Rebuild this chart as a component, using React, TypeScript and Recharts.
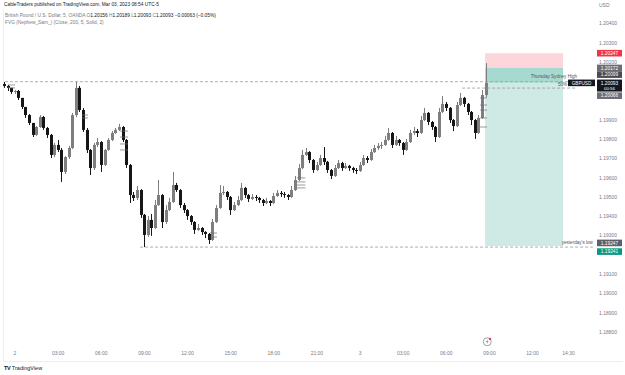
import React from 'react';
import { ComposedChart, Bar, XAxis, YAxis, ReferenceArea, ReferenceLine, ReferenceDot } from 'recharts';

// 15-minute candles, GBPUSD (OANDA), starting Mar 1 23:15 (hours relative to Mar 2 00:00)
const startHour = -0.75;
const stepHours = 0.25;

const opens = [
  1.20087, 1.20077, 1.20067, 1.20046, 1.20051, 1.20015, 1.19968, 1.19926, 1.19885, 1.19823,
  1.19864, 1.19916, 1.19859, 1.19823, 1.19719, 1.19771, 1.19745, 1.19631, 1.19708, 1.19755,
  1.19926, 1.20067, 1.19952, 1.19849, 1.19745, 1.19651, 1.19771, 1.19786, 1.19667, 1.19745,
  1.19797, 1.19833, 1.19849, 1.19864, 1.19797, 1.19667, 1.19511, 1.19496, 1.19537, 1.19408,
  1.19304, 1.19382, 1.19340, 1.19459, 1.19511, 1.19371, 1.19433, 1.19475, 1.19563, 1.19537,
  1.19459, 1.19433, 1.19402, 1.19371, 1.19330, 1.19340, 1.19319, 1.19309, 1.19278, 1.19371,
  1.19444, 1.19522, 1.19527, 1.19501, 1.19433, 1.19459, 1.19485, 1.19548, 1.19511, 1.19491,
  1.19501, 1.19496, 1.19485, 1.19470, 1.19480, 1.19470, 1.19506, 1.19522, 1.19516, 1.19511,
  1.19501, 1.19537, 1.19589, 1.19651, 1.19719, 1.19734, 1.19693, 1.19641, 1.19667, 1.19703,
  1.19683, 1.19641, 1.19610, 1.19651, 1.19677, 1.19651, 1.19662, 1.19651, 1.19641, 1.19636,
  1.19667, 1.19703, 1.19693, 1.19734, 1.19755, 1.19766, 1.19771, 1.19797, 1.19833, 1.19771,
  1.19797, 1.19781, 1.19745, 1.19786, 1.19833, 1.19843, 1.19833, 1.19900, 1.19937, 1.19890,
  1.19864, 1.19812, 1.19942, 1.19984, 1.19963, 1.19900, 1.19869, 1.19978, 1.20015, 1.19984,
  1.19942, 1.19900, 1.19833, 1.19911, 1.20030,
];

const closes = [
  1.20077, 1.20067, 1.20046, 1.20051, 1.20015, 1.19968, 1.19926, 1.19885, 1.19823, 1.19864,
  1.19916, 1.19859, 1.19823, 1.19719, 1.19771, 1.19745, 1.19631, 1.19708, 1.19755, 1.19926,
  1.20067, 1.19952, 1.19849, 1.19745, 1.19651, 1.19771, 1.19786, 1.19667, 1.19745, 1.19797,
  1.19833, 1.19849, 1.19864, 1.19797, 1.19667, 1.19511, 1.19496, 1.19537, 1.19408, 1.19304,
  1.19382, 1.19340, 1.19459, 1.19511, 1.19371, 1.19433, 1.19475, 1.19563, 1.19537, 1.19459,
  1.19433, 1.19402, 1.19371, 1.19330, 1.19340, 1.19319, 1.19309, 1.19278, 1.19371, 1.19444,
  1.19522, 1.19527, 1.19501, 1.19433, 1.19459, 1.19485, 1.19548, 1.19511, 1.19491, 1.19501,
  1.19496, 1.19485, 1.19470, 1.19480, 1.19470, 1.19506, 1.19522, 1.19516, 1.19511, 1.19501,
  1.19537, 1.19589, 1.19651, 1.19719, 1.19734, 1.19693, 1.19641, 1.19667, 1.19703, 1.19683,
  1.19641, 1.19610, 1.19651, 1.19677, 1.19651, 1.19662, 1.19651, 1.19641, 1.19636, 1.19667,
  1.19703, 1.19693, 1.19734, 1.19755, 1.19766, 1.19771, 1.19797, 1.19833, 1.19771, 1.19797,
  1.19781, 1.19745, 1.19786, 1.19833, 1.19843, 1.19833, 1.19900, 1.19937, 1.19890, 1.19864,
  1.19812, 1.19942, 1.19984, 1.19963, 1.19900, 1.19869, 1.19978, 1.20015, 1.19984, 1.19942,
  1.19900, 1.19833, 1.19911, 1.20030, 1.20093,
];

const highs = [
  1.20098, 1.20082, 1.20067, 1.20056, 1.20056, 1.20015, 1.19968, 1.19931, 1.19885, 1.19869,
  1.19926, 1.19921, 1.19864, 1.19828, 1.19781, 1.19797, 1.19755, 1.19713, 1.19766, 1.19937,
  1.20098, 1.20077, 1.19962, 1.19859, 1.19750, 1.19781, 1.19807, 1.19791, 1.19750, 1.19807,
  1.19843, 1.19859, 1.19880, 1.19869, 1.19802, 1.19672, 1.19527, 1.19558, 1.19542, 1.19413,
  1.19402, 1.19413, 1.19485, 1.19589, 1.19516, 1.19459, 1.19496, 1.19631, 1.19574, 1.19542,
  1.19470, 1.19438, 1.19407, 1.19376, 1.19361, 1.19345, 1.19324, 1.19314, 1.19387, 1.19459,
  1.19563, 1.19558, 1.19532, 1.19506, 1.19475, 1.19506, 1.19574, 1.19553, 1.19516, 1.19516,
  1.19511, 1.19501, 1.19491, 1.19496, 1.19485, 1.19522, 1.19537, 1.19532, 1.19527, 1.19516,
  1.19558, 1.19610, 1.19672, 1.19745, 1.19755, 1.19739, 1.19698, 1.19683, 1.19719, 1.19760,
  1.19688, 1.19646, 1.19667, 1.19693, 1.19683, 1.19677, 1.19667, 1.19657, 1.19651, 1.19683,
  1.19719, 1.19713, 1.19750, 1.19771, 1.19781, 1.19786, 1.19818, 1.19859, 1.19838, 1.19818,
  1.19802, 1.19786, 1.19802, 1.19849, 1.19864, 1.19854, 1.19921, 1.19963, 1.19942, 1.19895,
  1.19869, 1.19963, 1.20025, 1.19994, 1.19968, 1.19905, 1.19994, 1.20041, 1.20020, 1.19989,
  1.19947, 1.19905, 1.19926, 1.20056, 1.20195,
];

const lows = [
  1.20067, 1.20051, 1.20036, 1.20036, 1.20004, 1.19957, 1.19911, 1.19874, 1.19812, 1.19818,
  1.19859, 1.19849, 1.19807, 1.19703, 1.19708, 1.19734, 1.19579, 1.19620, 1.19698, 1.19750,
  1.19916, 1.19942, 1.19838, 1.19729, 1.19615, 1.19641, 1.19760, 1.19631, 1.19662, 1.19740,
  1.19791, 1.19828, 1.19843, 1.19786, 1.19651, 1.19470, 1.19480, 1.19485, 1.19392, 1.19241,
  1.19294, 1.19299, 1.19335, 1.19454, 1.19340, 1.19361, 1.19428, 1.19470, 1.19527, 1.19444,
  1.19418, 1.19382, 1.19356, 1.19309, 1.19325, 1.19304, 1.19288, 1.19257, 1.19273, 1.19366,
  1.19439, 1.19511, 1.19485, 1.19408, 1.19428, 1.19454, 1.19480, 1.19496, 1.19475, 1.19485,
  1.19480, 1.19470, 1.19454, 1.19464, 1.19454, 1.19464, 1.19501, 1.19501, 1.19496, 1.19485,
  1.19496, 1.19532, 1.19584, 1.19646, 1.19714, 1.19677, 1.19626, 1.19636, 1.19662, 1.19667,
  1.19626, 1.19594, 1.19605, 1.19646, 1.19636, 1.19646, 1.19636, 1.19626, 1.19620, 1.19631,
  1.19662, 1.19677, 1.19688, 1.19729, 1.19745, 1.19750, 1.19766, 1.19792, 1.19755, 1.19766,
  1.19766, 1.19719, 1.19740, 1.19781, 1.19823, 1.19812, 1.19828, 1.19895, 1.19874, 1.19849,
  1.19786, 1.19807, 1.19937, 1.19947, 1.19885, 1.19843, 1.19864, 1.19973, 1.19968, 1.19926,
  1.19874, 1.19802, 1.19828, 1.19906, 1.20020,
];

const xTickHours = [0, 3, 6, 9, 12, 15, 18, 21, 24, 27, 30, 33, 36, 38.5];
const xTickLabels = ['2', '03:00', '06:00', '09:00', '12:00', '15:00', '18:00', '21:00', '3', '03:00', '06:00', '09:00', '12:00', '14:30'];
// price-scale ticks that are not hidden behind the price tags
const yTicks = [1.188, 1.189, 1.19, 1.191, 1.193, 1.194, 1.195, 1.196, 1.197, 1.198, 1.199, 1.202, 1.203, 1.204];

// Short position tool
const stopPrice = 1.20247;
const entryPrice = 1.20172;
const lastPrice = 1.20093;
const targetPrice = 1.19247;
const positionStart = 32.7;
const positionEnd = 38.12;

// Dashed levels
const asianHigh = 1.20099;
const midLevel = 1.20066;
const yesterdayLow = 1.19241;

// FVG indicator marks: [startHour, endHour, price]
const fvgMarks = [
  [-0.49, 0.0, 1.20082], [-0.49, 0.0, 1.20067],
  [4.66, 5.08, 1.19926], [4.66, 5.08, 1.19911],
  [7.3, 7.86, 1.19843], [7.3, 7.86, 1.19812], [7.3, 7.86, 1.19776], [7.3, 7.86, 1.19745],
  [13.57, 14.05, 1.19314], [13.57, 14.05, 1.19293],
  [19.6, 20.2, 1.196], [19.6, 20.2, 1.19579], [19.6, 20.2, 1.19563], [19.6, 20.2, 1.19548],
  [32.35, 32.83, 1.20015], [32.35, 32.83, 1.19978], [32.35, 32.83, 1.19952], [32.35, 32.83, 1.19911], [32.35, 32.83, 1.19864],
];

const data = closes.map((c, i) => ({
  t: startHour + i * stepHours,
  open: opens[i],
  close: c,
  high: highs[i],
  low: lows[i],
  range: [lows[i], highs[i]],
}));

const FONT = '"Liberation Sans", Arial, sans-serif';

const Candle = (props: any) => {
  const { x, y, width, height, payload } = props;
  if (!payload || height == null || isNaN(y)) return null;
  const top = height < 0 ? y + height : y;
  const h = Math.abs(height);
  const { open, close, high, low } = payload;
  const span = high - low || 1e-9;
  const py = (v: number) => top + ((high - v) / span) * h;
  const up = close >= open;
  const color = up ? '#7e7e7e' : '#161616';
  const cx = Math.round(x + width / 2) + 0.5;
  const b1 = py(Math.max(open, close));
  const b2 = py(Math.min(open, close));
  return (
    <g>
      <line x1={cx} x2={cx} y1={top} y2={top + h} stroke={color} strokeWidth={1} />
      <rect x={cx - 1.5} y={b1} width={3} height={Math.max(1, b2 - b1)} fill={color} />
    </g>
  );
};

const tag = (text: string, bg: string, dy: number, sub?: string) => (props: any) => {
  const vb = props.viewBox;
  if (!vb) return null;
  const x = vb.x + vb.width + 17;
  const y = vb.y + dy;
  const h = sub ? 12 : 6.6;
  return (
    <g>
      <rect x={x} y={y - 3.3} width={25} height={h} fill={bg} />
      <text x={x + 12.5} y={y + 1.7} fontSize={4.8} fill="#fff" textAnchor="middle" fontFamily={FONT}>{text}</text>
      {sub ? <text x={x + 12.5} y={y + 6.8} fontSize={4.4} fill="#fff" textAnchor="middle" fontFamily={FONT}>{sub}</text> : null}
    </g>
  );
};

const symbolTag = (props: any) => {
  const vb = props.viewBox;
  if (!vb) return null;
  const x = vb.x + vb.width - 12;
  const y = vb.y;
  return (
    <g>
      <rect x={x} y={y - 3.3} width={27} height={6.6} fill="#131722" />
      <text x={x + 13.5} y={y + 1.7} fontSize={4.6} fill="#fff" textAnchor="middle" fontFamily={FONT}>GBPUSD</text>
    </g>
  );
};

const lineText = (text: string, dx: number, dy: number, anchor: string) => (props: any) => {
  const vb = props.viewBox;
  if (!vb) return null;
  return (
    <text x={vb.x + vb.width + dx} y={vb.y + dy} fontSize={4.6} fill="#555" textAnchor={anchor} fontFamily={FONT}>{text}</text>
  );
};

const EventIcon = (props: any) => {
  const { cx, cy } = props;
  if (cx == null) return null;
  return (
    <g>
      <circle cx={cx} cy={cy} r={4} fill="#fff" stroke="#787b86" strokeWidth={0.7} />
      <path d={`M${cx + 0.6} ${cy - 2.6} L${cx - 1.3} ${cy + 0.3} L${cx + 0.2} ${cy + 0.3} L${cx - 0.6} ${cy + 2.6} L${cx + 1.4} ${cy - 0.5} L${cx - 0.1} ${cy - 0.5} Z`} fill="#787b86" />
      <circle cx={cx + 2.8} cy={cy - 2.8} r={1.2} fill="#f23645" />
    </g>
  );
};

export default function App() {
  return (
    <div style={{ position: 'absolute', left: 0, top: 0, width: 625, height: 375, background: '#fff', overflow: 'hidden', fontFamily: FONT }}>
      <div style={{ position: 'absolute', left: 3, top: 9, width: 619, height: 352, borderLeft: '1px solid #eceef2', borderBottom: '1px solid #eceef2' }} />
      <div style={{ position: 'absolute', left: 0, top: 0 }}>
        <ComposedChart width={625} height={362} data={data} margin={{ top: 10, right: 0, left: 3, bottom: 0 }}>
          <XAxis
            dataKey="t"
            type="number"
            domain={[-0.835, 39.3]}
            allowDataOverflow
            ticks={xTickHours}
            interval={0}
            tickFormatter={(v: number) => xTickLabels[xTickHours.indexOf(v)] ?? ''}
            tick={{ fontSize: 5, fill: '#787b86', fontFamily: FONT }}
            tickLine={false}
            axisLine={false}
            tickSize={0}
            tickMargin={6}
            height={17}
          />
          <YAxis
            orientation="right"
            type="number"
            domain={[1.18733, 1.20471]}
            allowDataOverflow
            ticks={yTicks}
            interval={0}
            tickFormatter={(v: number) => v.toFixed(5)}
            tick={{ fontSize: 5, fill: '#787b86', fontFamily: FONT }}
            tickLine={false}
            axisLine={false}
            tickSize={0}
            tickMargin={19}
            width={45}
          />
          <ReferenceArea x1={positionStart} x2={positionEnd} y1={entryPrice} y2={stopPrice} fill="#fcd6da" fillOpacity={1} stroke="none" ifOverflow="visible" />
          <ReferenceArea x1={positionStart} x2={positionEnd} y1={targetPrice} y2={lastPrice} fill="#cfeae4" fillOpacity={1} stroke="none" ifOverflow="visible" />
          <ReferenceArea x1={positionStart} x2={positionEnd} y1={lastPrice} y2={entryPrice} fill="#a6dad0" fillOpacity={1} stroke="none" ifOverflow="visible" />

          <ReferenceLine segment={[{ x: -0.7, y: asianHigh }, { x: 39.1, y: asianHigh }]} stroke="#9598a1" strokeWidth={0.8} strokeDasharray="3 2" ifOverflow="visible" label={lineText('Thursday Sydney High', 0, -4, 'end')} />
          <ReferenceLine segment={[{ x: 31.1, y: midLevel }, { x: 39.1, y: midLevel }]} stroke="#9598a1" strokeWidth={0.8} strokeDasharray="3 2" ifOverflow="visible" label={lineText('50%', -10, -2.5, 'end')} />
          <ReferenceLine segment={[{ x: 8.7, y: yesterdayLow }, { x: 40.2, y: yesterdayLow }]} stroke="#9598a1" strokeWidth={0.8} strokeDasharray="3 2" ifOverflow="visible" label={lineText("yesterday's low", 0, -3, 'end')} />

          {fvgMarks.map((m, i) => (
            <ReferenceLine key={'fvg' + i} segment={[{ x: m[0], y: m[2] }, { x: m[1], y: m[2] }]} stroke="#6b6e78" strokeWidth={0.7} ifOverflow="visible" />
          ))}

          <Bar dataKey="range" barSize={3} shape={(p: any) => <Candle {...p} />} isAnimationActive={false} />

          <ReferenceDot x={32.85} y={1.1875} r={4} shape={(p: any) => <EventIcon {...p} />} ifOverflow="visible" />

          <ReferenceLine y={stopPrice} strokeOpacity={0} ifOverflow="visible" label={tag('1.20247', '#f23645', 0)} />
          <ReferenceLine y={entryPrice} strokeOpacity={0} ifOverflow="visible" label={tag('1.20172', '#6a6d78', 0.3)} />
          <ReferenceLine y={asianHigh} strokeOpacity={0} ifOverflow="visible" label={tag('1.20099', '#4a4c55', -7.1)} />
          <ReferenceLine y={midLevel} strokeOpacity={0} ifOverflow="visible" label={tag('1.20066', '#6a6d78', 7.6)} />
          <ReferenceLine y={lastPrice} strokeOpacity={0} ifOverflow="visible" label={symbolTag} />
          <ReferenceLine y={lastPrice} strokeOpacity={0} ifOverflow="visible" label={tag('1.20093', '#131722', 0, '00:56')} />
          <ReferenceLine y={targetPrice} strokeOpacity={0} ifOverflow="visible" label={tag('1.19247', '#5d606b', -3)} />
          <ReferenceLine y={yesterdayLow} strokeOpacity={0} ifOverflow="visible" label={tag('1.19241', '#089981', 4.5)} />
        </ComposedChart>
      </div>

      <div style={{ position: 'absolute', left: 4, top: 2, fontSize: 4.8, color: '#131722', whiteSpace: 'nowrap', lineHeight: '6px' }}>
        CableTraders published on TradingView.com, Mar 03, 2023 08:54 UTC-5
      </div>
      <div style={{ position: 'absolute', left: 5, top: 13, fontSize: 4.8, color: '#787b86', whiteSpace: 'nowrap', lineHeight: '6px' }}>
        British Pound / U.S. Dollar, 5, OANDA{'  '}
        <span style={{ color: '#787b86' }}>O</span><span style={{ color: '#131722' }}>1.20156</span>{' '}
        <span>H</span><span style={{ color: '#131722' }}>1.20189</span>{' '}
        <span>L</span><span style={{ color: '#131722' }}>1.20093</span>{' '}
        <span>C</span><span style={{ color: '#131722' }}>1.20093</span>{' '}
        <span style={{ color: '#131722' }}>−0.00063 (−0.05%)</span>
      </div>
      <div style={{ position: 'absolute', left: 5, top: 20, fontSize: 4.8, color: '#787b86', whiteSpace: 'nowrap', lineHeight: '6px' }}>
        FVG (Nephew_Sam_) (Close, 200, 5, Solid, 2)
      </div>
      <div style={{ position: 'absolute', left: 599, top: 2, fontSize: 5, color: '#787b86', lineHeight: '6px' }}>USD</div>
      <div style={{ position: 'absolute', left: 4, top: 365, fontSize: 5.5, color: '#131722', whiteSpace: 'nowrap', lineHeight: '7px' }}>
        <span style={{ fontWeight: 900, letterSpacing: '-0.3px' }}>TV</span> TradingView
      </div>
    </div>
  );
}
